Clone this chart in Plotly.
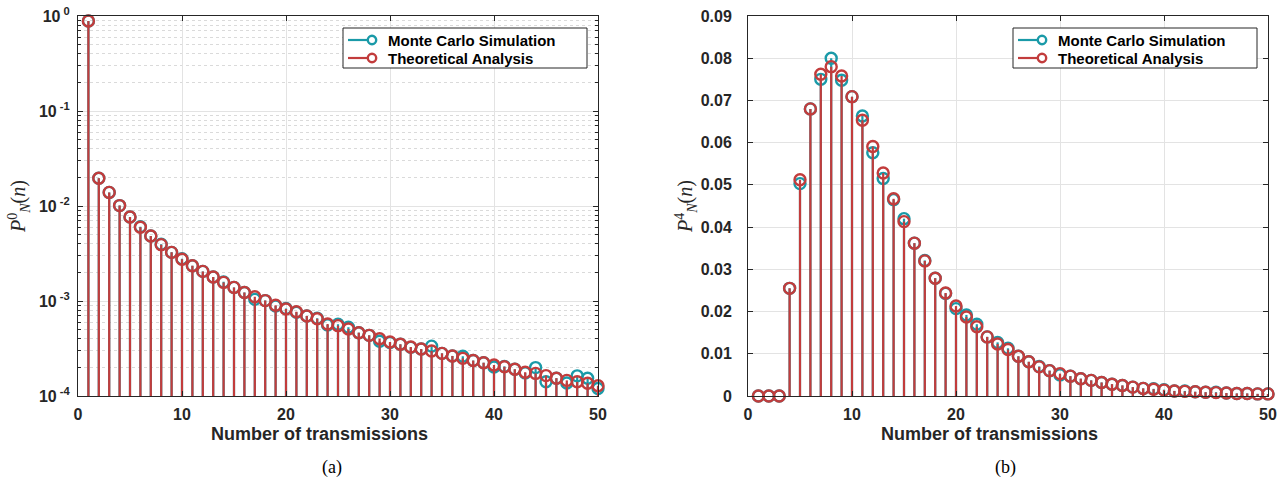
import plotly.graph_objects as go

n = list(range(1, 51))

# (a) P_N^0(n), log scale
theory_a = [0.885, 0.0196, 0.0139, 0.0101, 0.00766, 0.00597, 0.00483, 0.00392, 0.00325, 0.00275,
            0.00235, 0.00205, 0.00179, 0.00157, 0.00139, 0.00123, 0.00111, 0.00101, 0.000901, 0.000824,
            0.000771, 0.000695, 0.000651, 0.000573, 0.00055, 0.000507, 0.000464, 0.000435, 0.000401, 0.00037,
            0.00035, 0.000328, 0.000312, 0.000298, 0.000281, 0.000264, 0.000249, 0.000236, 0.000224, 0.000212,
            0.000203, 0.000191, 0.000178, 0.000173, 0.000164, 0.000154, 0.000146, 0.000141, 0.000136, 0.000128]
mc_a = [0.885, 0.0196, 0.0139, 0.0101, 0.00766, 0.00605, 0.00483, 0.00395, 0.00325, 0.00278,
        0.00235, 0.00205, 0.00179, 0.00159, 0.00139, 0.00123, 0.00104, 0.00101, 0.000885, 0.000835,
        0.00076, 0.000695, 0.000660, 0.000560, 0.00057, 0.00053, 0.000464, 0.000435, 0.000377, 0.000365,
        0.00035, 0.000325, 0.000312, 0.000335, 0.000281, 0.000264, 0.000262, 0.000236, 0.000224, 0.000202,
        0.000205, 0.000191, 0.000175, 0.000199, 0.000141, 0.000154, 0.000137, 0.000163, 0.000154, 0.00012]

# (b) P_N^4(n), linear scale
theory_b = [0, 0, 0, 0.0255, 0.0512, 0.068, 0.0762, 0.078, 0.0758, 0.0709,
            0.0653, 0.0591, 0.0528, 0.0467, 0.0413, 0.0362, 0.032, 0.0279, 0.0244, 0.0213,
            0.0187, 0.0164, 0.014, 0.0123, 0.011, 0.0094, 0.0081, 0.0069, 0.006, 0.0053,
            0.0047, 0.0041, 0.0037, 0.0032, 0.0028, 0.0025, 0.0021, 0.0018, 0.0016, 0.0014,
            0.0012, 0.0011, 0.001, 0.0009, 0.0008, 0.0007, 0.0006, 0.0006, 0.0005, 0.0005]
mc_b = [0, 0, 0, 0.0255, 0.0503, 0.068, 0.075, 0.080, 0.0748, 0.0709,
        0.0663, 0.0576, 0.0515, 0.0465, 0.042, 0.0362, 0.0321, 0.0279, 0.0243, 0.0207,
        0.0192, 0.017, 0.014, 0.0127, 0.0113, 0.0094, 0.0081, 0.0070, 0.0060, 0.0050,
        0.0047, 0.0041, 0.0037, 0.0032, 0.0028, 0.0025, 0.0021, 0.0018, 0.0017, 0.0015,
        0.0012, 0.0012, 0.001, 0.0009, 0.0009, 0.0007, 0.0006, 0.0006, 0.0005, 0.0005]

series_names = ["Monte Carlo Simulation", "Theoretical Analysis"]

x_ticks = [0, 10, 20, 30, 40, 50]
log_ticks = [1e-4, 1e-3, 1e-2, 1e-1, 1]
log_ticktext = ["10<sup> -4</sup>", "10<sup> -3</sup>", "10<sup> -2</sup>", "10<sup> -1</sup>", "10<sup> 0</sup>"]
lin_ticks = [0, 0.01, 0.02, 0.03, 0.04, 0.05, 0.06, 0.07, 0.08, 0.09]
lin_ticktext = ["0", "0.01", "0.02", "0.03", "0.04", "0.05", "0.06", "0.07", "0.08", "0.09"]

TEAL = "#1a9aa8"
RED = "#c23c3c"
FRAME = "#262626"
GRID = "#e3e3e3"
W, H = 1282, 480

fig = go.Figure()


def stems(xs, ys, base):
    sx, sy = [], []
    for xv, yv in zip(xs, ys):
        sx += [xv, xv, None]
        sy += [base, yv, None]
    return sx, sy


def add_series(xs, ys, base, color, name, xa, ya):
    sx, sy = stems(xs, ys, base)
    fig.add_trace(go.Scatter(x=sx, y=sy, mode="lines", line=dict(color=color, width=2.2),
                             showlegend=False, hoverinfo="skip", xaxis=xa, yaxis=ya, cliponaxis=True))
    fig.add_trace(go.Scatter(x=xs, y=ys, mode="markers", name=name, showlegend=False,
                             marker=dict(symbol="circle-open", size=11, color=color,
                                         line=dict(width=2.4, color=color)),
                             xaxis=xa, yaxis=ya, cliponaxis=False))


add_series(n, mc_a, 1e-6, TEAL, series_names[0], "x", "y")
add_series(n, theory_a, 1e-6, RED, series_names[1], "x", "y")
add_series(n, mc_b, 0, TEAL, series_names[0], "x2", "y2")
add_series(n, theory_b, 0, RED, series_names[1], "x2", "y2")

ydom = [(H - 396) / H, (H - 16) / H]
xdom1 = [78 / W, 598 / W]
xdom2 = [748 / W, 1268 / W]

tickfont = dict(family="Liberation Sans, Arial, sans-serif", size=16, color=FRAME, weight="bold")

xcommon = dict(range=[0, 50], tickvals=x_ticks, ticks="inside", ticklen=5, tickcolor=FRAME,
               showline=True, linecolor=FRAME, linewidth=1, mirror="ticks", showgrid=True,
               gridcolor=GRID, gridwidth=1, zeroline=False, tickfont=tickfont, ticklabelstandoff=4,
               automargin=False)

minor_vals = [k * 10 ** e for e in range(-4, 0) for k in range(2, 10)]

fig.update_layout(
    width=W, height=H, margin=dict(l=0, r=0, t=0, b=0, autoexpand=False),
    paper_bgcolor="white", plot_bgcolor="white", showlegend=False,
    xaxis=dict(domain=xdom1, anchor="y", **xcommon),
    yaxis=dict(domain=ydom, anchor="x", type="log", range=[-4, 0], tickvals=log_ticks, ticktext=log_ticktext,
               ticks="inside", ticklen=5, tickcolor=FRAME, showline=True, linecolor=FRAME, linewidth=1,
               mirror="ticks", showgrid=True, gridcolor=GRID, zeroline=False, tickfont=tickfont,
               automargin=False, ticklabelstandoff=4,
               minor=dict(tickvals=minor_vals, ticks="inside", ticklen=3, tickcolor=FRAME,
                          showgrid=True, gridcolor="#dadada", griddash="dot", gridwidth=1)),
    xaxis2=dict(domain=xdom2, anchor="y2", **xcommon),
    yaxis2=dict(domain=ydom, anchor="x2", range=[0, 0.09], tickvals=lin_ticks, ticktext=lin_ticktext,
                ticks="inside", ticklen=5, tickcolor=FRAME, showline=True, linecolor=FRAME, linewidth=1,
                mirror="ticks", showgrid=True, gridcolor=GRID, zeroline=False, tickfont=tickfont,
                automargin=False, ticklabelstandoff=12),
)

# Legend boxes (MATLAB style: line with open circle at its end)
shapes = []
ann = []
legfont = dict(family="Liberation Sans, Arial, sans-serif", size=15, color="black", weight="bold")
for left in (343, 1013):
    right = left + 244
    shapes.append(dict(type="rect", xref="paper", yref="paper", x0=left / W, x1=right / W,
                       y0=(H - 68) / H, y1=(H - 28) / H, line=dict(color=FRAME, width=1),
                       fillcolor="white", layer="above"))
    for row, (name, color) in enumerate(zip(series_names, [TEAL, RED])):
        yc = 40 + 18 * row
        shapes.append(dict(type="line", xref="paper", yref="paper", x0=(left + 5) / W, x1=(left + 25) / W,
                           y0=(H - yc) / H, y1=(H - yc) / H, line=dict(color=color, width=2.2), layer="above"))
        shapes.append(dict(type="circle", xref="paper", yref="paper", xsizemode="pixel", ysizemode="pixel",
                           xanchor=(left + 29) / W, yanchor=(H - yc) / H, x0=-4.2, x1=4.2, y0=-4.2, y1=4.2,
                           line=dict(color=color, width=2.4), fillcolor="white", layer="above"))
        ann.append(dict(text=name, x=(left + 43) / W, y=(H - yc) / H, xanchor="left", yanchor="middle",
                        font=legfont))

afont = dict(family="Liberation Sans, Arial, sans-serif", size=18, color=FRAME, weight="bold")
tfont = dict(family="Liberation Serif, Times New Roman, serif", size=18, color="black")
ann += [
    dict(text="Number of transmissions", x=319 / W, y=(H - 434) / H, font=afont),
    dict(text="Number of transmissions", x=989 / W, y=(H - 434) / H, font=afont),
    dict(text="(a)", x=332 / W, y=(H - 467) / H, font=tfont),
    dict(text="(b)", x=1005 / W, y=(H - 467) / H, font=tfont),
    dict(text="<i>P</i><sup>0</sup><sub><i>N</i></sub>(<i>n</i>)", x=19 / W, y=(H - 207) / H,
         textangle=-90, font=dict(family="Liberation Serif, Times New Roman, serif", size=20, color=FRAME)),
    dict(text="<i>P</i><sup>4</sup><sub><i>N</i></sub>(<i>n</i>)", x=686 / W, y=(H - 207) / H,
         textangle=-90, font=dict(family="Liberation Serif, Times New Roman, serif", size=20, color=FRAME)),
]
for a in ann:
    a.update(xref="paper", yref="paper", showarrow=False)
    a.setdefault("xanchor", "center")
    a.setdefault("yanchor", "middle")
fig.update_layout(annotations=ann, shapes=shapes)

fig.write_html("out.html")
